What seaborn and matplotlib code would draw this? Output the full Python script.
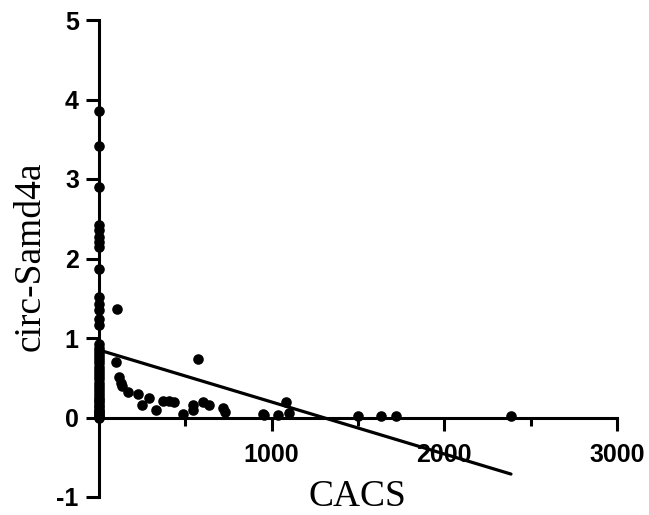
import numpy as np
import pandas as pd
import matplotlib
matplotlib.use("Agg")
import matplotlib.pyplot as plt
import seaborn as sns

# --- DATOS ---
# pacientes con CACS = 0
cacs_cero = [0] * 43
samd4a_cero = [3.85, 3.41, 2.90, 2.42, 2.36, 2.27, 2.21, 2.15, 1.87, 1.52,
               1.43, 1.35, 1.24, 1.16,
               0.92, 0.88, 0.84, 0.80, 0.76, 0.72, 0.68, 0.64, 0.60, 0.56,
               0.52, 0.48, 0.44, 0.40, 0.36, 0.32, 0.28, 0.25, 0.22, 0.19,
               0.16, 0.13, 0.10, 0.08, 0.06, 0.04, 0.02, 0.01, 0.00]

# pacientes con CACS > 0
cacs_pos = [102, 99, 118, 125, 135, 170, 224, 291, 251, 330,
            372, 407, 436, 485, 542, 546, 571, 604, 637, 720,
            730, 948, 955, 1035, 1083, 1102, 1502, 1633, 1720, 2386]
samd4a_pos = [1.36, 0.70, 0.51, 0.44, 0.39, 0.32, 0.29, 0.25, 0.16, 0.09,
              0.21, 0.21, 0.19, 0.05, 0.16, 0.10, 0.73, 0.19, 0.16, 0.12,
              0.07, 0.05, 0.03, 0.03, 0.19, 0.06, 0.02, 0.02, 0.02, 0.02]

x_ticks = [1000, 2000, 3000]
x_minor = [500, 1500, 2500]
y_ticks = [-1, 0, 1, 2, 3, 4, 5]

df = pd.DataFrame({
    "CACS": cacs_cero + cacs_pos,
    "circ": samd4a_cero + samd4a_pos,
})

sns.set_style("ticks")
plt.rcParams["font.family"] = ["Liberation Sans", "DejaVu Sans"]
plt.rcParams["axes.unicode_minus"] = False
plt.rcParams["axes.edgecolor"] = "black"
plt.rcParams["xtick.color"] = "black"
plt.rcParams["ytick.color"] = "black"
plt.rcParams["text.color"] = "black"
plt.rcParams["axes.labelcolor"] = "black"

fig = plt.figure(figsize=(6.49, 5.15), dpi=100)
ax = fig.add_axes([99 / 649, 18 / 515, 518 / 649, 477 / 515])

sns.scatterplot(data=df, x="CACS", y="circ", color="black", s=58,
                edgecolor="black", linewidth=0, clip_on=False, zorder=4, ax=ax)
sns.regplot(data=df, x="CACS", y="circ", scatter=False, ci=None, truncate=True,
            color="black", line_kws={"linewidth": 2.3}, ax=ax)

ax.set_xlim(0, 3000)
ax.set_ylim(-1, 5)
ax.set_xticks(x_ticks)
ax.set_xticks(x_minor, minor=True)
ax.set_yticks(y_ticks)

# ejes estilo prism
for lado in ["top", "right"]:
    ax.spines[lado].set_visible(False)
ax.spines["bottom"].set_position(("data", 0))
ax.spines["bottom"].set_linewidth(2.2)
ax.spines["left"].set_linewidth(2.2)

ax.tick_params(axis="both", which="major", length=9.5, width=2.2,
               labelsize=18, direction="out", colors="black")
ax.tick_params(axis="x", which="minor", length=5.5, width=2.2, direction="out",
               colors="black")
ax.tick_params(axis="x", which="major", pad=9)
ax.tick_params(axis="y", which="major", pad=5)
for lab in ax.get_xticklabels() + ax.get_yticklabels():
    lab.set_fontweight("bold")

ax.set_xlabel("CACS", family=["Liberation Serif"], fontsize=27, color="black")
ax.set_ylabel("circ-Samd4a", family=["Liberation Serif"], fontsize=27, color="black")
ax.xaxis.label.set_va("bottom")
ax.yaxis.label.set_va("center")
ax.xaxis.set_label_coords(0.498, -0.035)
ax.yaxis.set_label_coords(-0.133, 0.505)

fig.savefig("out.png", dpi=100)
